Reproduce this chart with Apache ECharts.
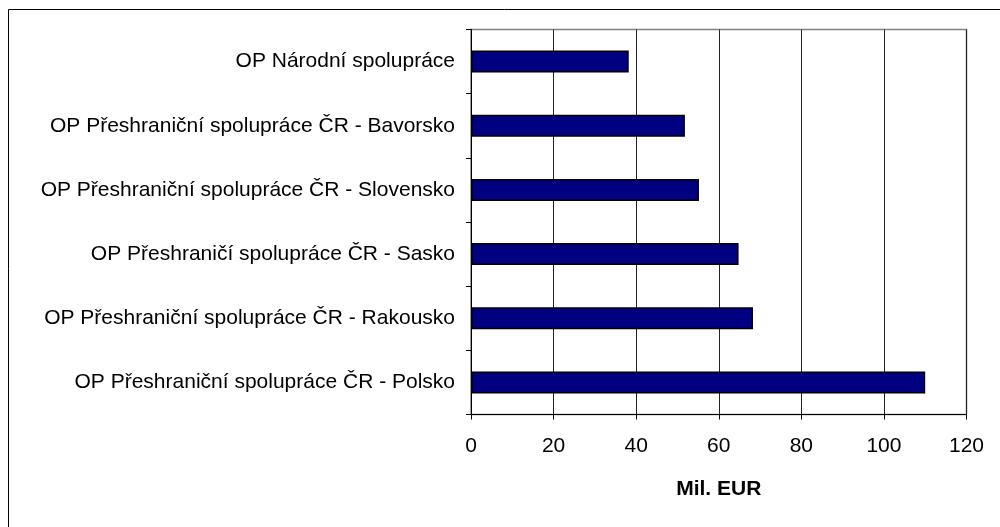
<!DOCTYPE html>
<html>
<head>
<meta charset="utf-8">
<script src="https://cdn.jsdelivr.net/npm/echarts@6/dist/echarts.min.js"></script>
<style>
  html, body { margin: 0; padding: 0; background: #fff; }
  #chart { width: 1000px; height: 527px; }
</style>
</head>
<body>
<div id="chart"></div>
<script>
// programy (shora dolu)
const categories = [
    'OP Národní spolupráce',
    'OP Přeshraniční spolupráce ČR - Bavorsko',
    'OP Přeshraniční spolupráce ČR - Slovensko',
    'OP Přeshraničí spolupráce ČR - Sasko',
    'OP Přeshraniční spolupráce ČR - Rakousko',
    'OP Přeshraniční spolupráce ČR - Polsko'
];
// alokace v mil. EUR
const values = [38.2, 51.8, 55.2, 64.8, 68.3, 110.0];
const xTicks = [0, 20, 40, 60, 80, 100, 120];
const axisName = 'Mil. EUR';

const font = 'Liberation Sans, Arial, sans-serif';
const myChart = echarts.init(document.getElementById('chart'));

const option = {
    backgroundColor: '#fff',
    animation: false,
    graphic: [{
        type: 'rect',
        shape: { x: 8.5, y: 9.5, width: 1010, height: 540 },
        style: { fill: 'none', stroke: '#000', lineWidth: 1 },
        silent: true
    }],
    grid: {
        left: 471,
        right: 33.5,
        top: 29.5,
        bottom: 112.5,
        show: true,
        borderColor: '#808080',
        borderWidth: 1.5,
        backgroundColor: 'transparent'
    },
    xAxis: {
        type: 'value',
        min: xTicks[0],
        max: xTicks[xTicks.length - 1],
        interval: 20,
        name: axisName,
        nameLocation: 'middle',
        nameGap: 64,
        nameTextStyle: {
            fontFamily: font,
            fontSize: 21,
            fontWeight: 'bold',
            color: '#000'
        },
        axisLine: { show: true, lineStyle: { color: '#000', width: 1 } },
        axisTick: { show: true, length: 5, lineStyle: { color: '#000' } },
        axisLabel: {
            margin: 21,
            fontFamily: font,
            fontSize: 21,
            color: '#000'
        },
        splitLine: {
            show: true,
            lineStyle: { color: '#222', width: 1 }
        }
    },
    yAxis: {
        type: 'category',
        data: categories,
        inverse: true,
        axisLine: { show: true, lineStyle: { color: '#000', width: 1 } },
        axisTick: { show: true, length: 5, lineStyle: { color: '#000' } },
        axisLabel: {
            margin: 16,
            fontFamily: font,
            fontSize: 21,
            color: '#000'
        },
        splitLine: { show: false }
    },
    series: [{
        type: 'bar',
        data: values,
        barWidth: 22,
        itemStyle: {
            color: '#000080',
            borderColor: '#000',
            borderWidth: 1.5
        }
    }]
};
myChart.setOption(option, true);
</script>
</body>
</html>
